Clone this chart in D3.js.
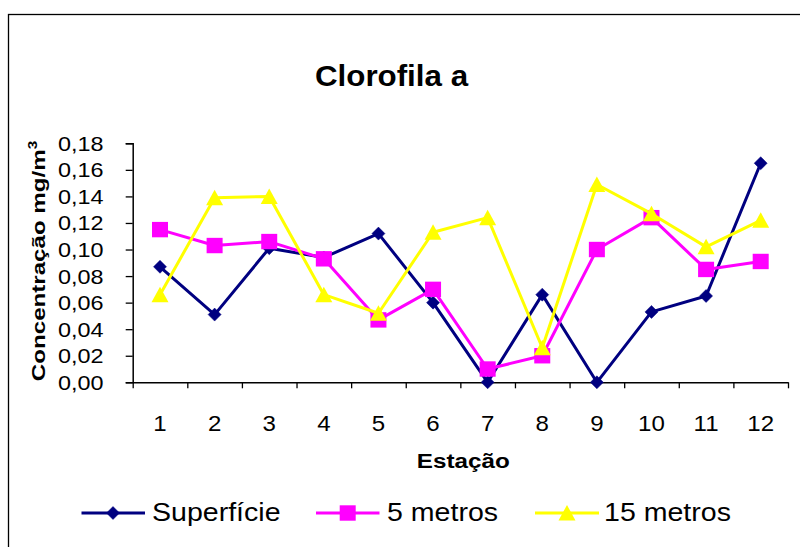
<!DOCTYPE html>
<html>
<head>
<meta charset="utf-8">
<script src="https://cdn.jsdelivr.net/npm/d3@7/dist/d3.min.js"></script>
<style>
  html, body { margin: 0; padding: 0; background: #fff; }
  svg { display: block; }
  text { font-family: "Liberation Sans", Arial, sans-serif; fill: #000; }
</style>
</head>
<body>
<svg id="chart" width="800" height="547"></svg>
<script>
// Chlorophyll-a concentration per station, at three depths
const estacoes = ["1", "2", "3", "4", "5", "6", "7", "8", "9", "10", "11", "12"];
const superficie = [0.087, 0.051, 0.101, 0.094, 0.112, 0.060, 0.000, 0.066, 0.000, 0.053, 0.065, 0.165];
const metros5    = [0.115, 0.103, 0.106, 0.093, 0.047, 0.070, 0.010, 0.020, 0.100, 0.124, 0.085, 0.091];
const metros15   = [0.066, 0.139, 0.140, 0.066, 0.052, 0.113, 0.124, 0.026, 0.149, 0.127, 0.102, 0.122];
const yTicks = [0, 0.02, 0.04, 0.06, 0.08, 0.10, 0.12, 0.14, 0.16, 0.18];
const seriesNames = ["Superfície", "5 metros", "15 metros"];

const series = [
  { name: seriesNames[0], values: superficie, color: "#000080", marker: "diamond" },
  { name: seriesNames[1], values: metros5,    color: "#FF00FF", marker: "square" },
  { name: seriesNames[2], values: metros15,   color: "#FFFF00", marker: "triangle" }
];

const svg = d3.select("#chart");

// outer chart border (right and bottom edges run past the canvas)
svg.append("rect")
  .attr("x", 8.5).attr("y", 14.5)
  .attr("width", 840).attr("height", 560)
  .attr("fill", "none").attr("stroke", "#000").attr("stroke-width", 1.3);

const plot = { left: 132.7, right: 788, top: 143.3, bottom: 382.3 };

const x = d3.scaleBand().domain(estacoes).range([plot.left, plot.right]).padding(0);
const xEdge = d3.scaleLinear().domain([0, estacoes.length]).range([plot.left, plot.right]);
const y = d3.scaleLinear().domain([0, 0.18]).range([plot.bottom, plot.top]);
const cx = d => x(d) + x.bandwidth() / 2;

// stretched text helper
function stext(g, str, px, py, opts) {
  const o = Object.assign({ size: 20, sx: 1.15, anchor: "middle", weight: "normal", rotate: 0 }, opts || {});
  return g.append("text")
    .attr("transform", `translate(${px},${py})` + (o.rotate ? ` rotate(${o.rotate})` : "") + ` scale(${o.sx},1)`)
    .attr("text-anchor", o.anchor)
    .attr("font-size", o.size)
    .attr("font-weight", o.weight)
    .text(str);
}

// title
stext(svg, "Clorofila a", 391.5, 86, { size: 29, sx: 1.08, weight: "bold" });

// y axis
const yAxis = d3.axisLeft(y).tickValues(yTicks).tickSize(7).tickFormat("");
const yg = svg.append("g").attr("transform", `translate(${plot.left},0)`).call(yAxis);
yg.select(".domain").attr("stroke", "#000").attr("stroke-width", 1.5);
yg.selectAll(".tick line").attr("stroke", "#000").attr("stroke-width", 1.3);
const fmt = d3.format(".2f");
yTicks.forEach(t => {
  stext(svg, fmt(t).replace(".", ","), 103.5, y(t) + 7.5, { size: 19.5, sx: 1.2, anchor: "end" });
});

// x axis: ticks at the category boundaries
const xAxis = d3.axisBottom(xEdge).tickValues(d3.range(0, estacoes.length + 1)).tickSize(6).tickFormat("").tickSizeOuter(0);
const xg = svg.append("g").attr("transform", `translate(0,${plot.bottom})`).call(xAxis);
xg.select(".domain").attr("stroke", "#000").attr("stroke-width", 1.5);
xg.selectAll(".tick line").attr("stroke", "#000").attr("stroke-width", 1.3);
estacoes.forEach(c => {
  stext(svg, c, cx(c), 431, { size: 21.5, sx: 1.12 });
});

// axis titles
stext(svg, "Estação", 463.3, 468, { size: 21, sx: 1.155, weight: "bold" });
const yt = svg.append("text")
  .attr("transform", `translate(45,261) rotate(-90) scale(1.27,1)`)
  .attr("text-anchor", "middle")
  .attr("font-size", 19)
  .attr("font-weight", "bold");
yt.append("tspan").text("Concentração mg/m");
yt.append("tspan").attr("font-size", 12).attr("dy", -8).text("3");

// markers
function drawMarker(g, type, px, py, color) {
  if (type === "diamond") {
    g.append("path").attr("d", `M${px},${py - 6.5}L${px + 6.5},${py}L${px},${py + 6.5}L${px - 6.5},${py}Z`)
      .attr("fill", color).attr("stroke", color).attr("stroke-width", 0.5);
  } else if (type === "square") {
    g.append("rect").attr("x", px - 8).attr("y", py - 7.7).attr("width", 16).attr("height", 15.4)
      .attr("fill", color);
  } else {
    g.append("path").attr("d", `M${px},${py - 8}L${px + 8.5},${py + 7.5}L${px - 8.5},${py + 7.5}Z`)
      .attr("fill", color);
  }
}

// series lines and markers
const line = d3.line().x((d, i) => cx(estacoes[i])).y(d => y(d));
series.forEach(s => {
  const g = svg.append("g");
  g.append("path").datum(s.values)
    .attr("d", line)
    .attr("fill", "none")
    .attr("stroke", s.color)
    .attr("stroke-width", 3)
    .attr("stroke-linejoin", "round");
  s.values.forEach((v, i) => drawMarker(g, s.marker, cx(estacoes[i]), y(v), s.color));
});

// legend
const legendItems = [
  { lineX0: 81.5, lineX1: 145, mx: 113, tx: 152 },
  { lineX0: 316, lineX1: 379.5, mx: 347.7, tx: 387 },
  { lineX0: 535, lineX1: 599, mx: 567, tx: 604 }
];
const ly = 513;
series.forEach((s, i) => {
  const it = legendItems[i];
  const g = svg.append("g");
  g.append("line").attr("x1", it.lineX0).attr("x2", it.lineX1).attr("y1", ly).attr("y2", ly)
    .attr("stroke", s.color).attr("stroke-width", 3);
  drawMarker(g, s.marker, it.mx, ly, s.color);
  stext(g, s.name, it.tx, 521, { size: 25.5, sx: 1.12, anchor: "start" });
});
</script>
</body>
</html>
